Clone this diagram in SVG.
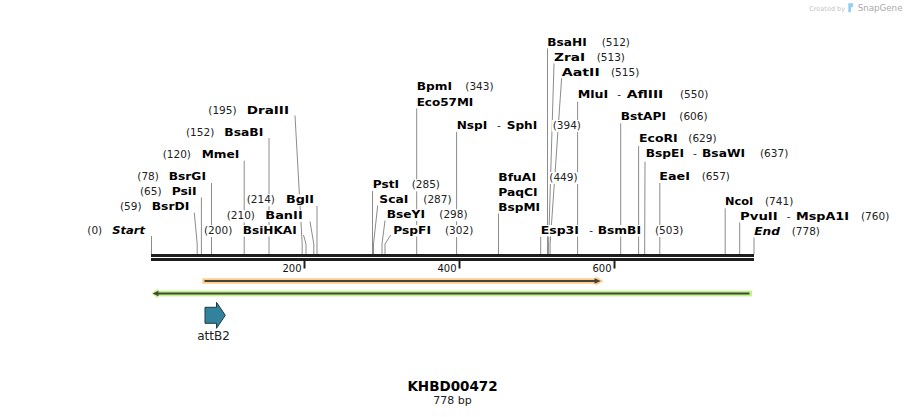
<svg xmlns="http://www.w3.org/2000/svg" width="906" height="417" viewBox="0 0 906 417">
<style>
.n{font-family:"DejaVu Sans",Verdana,sans-serif;font-size:11px;font-weight:bold;fill:#000}
.ni{font-family:"DejaVu Sans",Verdana,sans-serif;font-size:11px;font-weight:bold;font-style:italic;fill:#000}
.p{font-family:"DejaVu Sans",Verdana,sans-serif;font-size:10.5px;fill:#222}
.t{font-family:"DejaVu Sans",Verdana,sans-serif;font-size:10px;fill:#111}
.bg{fill:#fff}
.ld{stroke:#8c8c8c;stroke-width:1;fill:none}
.bb{fill:#1e1e1e}
.tk{stroke:#1e1e1e;stroke-width:2}
</style>
<rect width="906" height="417" fill="#fff"/>

<g id="connectors">
<path class="ld" d="M151.5,236V254"/>
<path class="ld" d="M194.3,212.7L197.2,244V254"/>
<path class="ld" d="M201.4,197.5V254"/>
<path class="ld" d="M211.5,183V254"/>
<path class="ld" d="M244.2,160.7V254"/>
<path class="ld" d="M269,138V254"/>
<path class="ld" d="M295,115.5L302.2,244V254"/>
<path class="ld" d="M303.5,235L306,244V254"/>
<path class="ld" d="M310,221.5L313.8,244V254"/>
<path class="ld" d="M317,206V254"/>
<path class="ld" d="M372.5,190.7V254"/>
<path class="ld" d="M377.7,205.5L373.5,244V254"/>
<path class="ld" d="M385,220.5L382,244V254"/>
<path class="ld" d="M390.7,235L385,244V254"/>
<path class="ld" d="M416.7,108.3V254"/>
<path class="ld" d="M456.6,131.7V254"/>
<path class="ld" d="M498.5,213.3V254"/>
<path class="ld" d="M540.7,236.7V254"/>
<path class="ld" d="M547.5,48.3V254"/>
<path class="ld" d="M554,63.3L548.6,244V254"/>
<path class="ld" d="M561.7,77.3L550.1,244V254"/>
<path class="ld" d="M577.6,101.7V254"/>
<path class="ld" d="M620.7,123.3V254"/>
<path class="ld" d="M638.6,146V254"/>
<path class="ld" d="M645,161.7L644.7,244V254"/>
<path class="ld" d="M659.8,183V254"/>
<path class="ld" d="M725.2,208.3V254"/>
<path class="ld" d="M739.7,222V254"/>
<path class="ld" d="M754,237V254"/>
</g>

<g id="site-Start">
<rect class="bg" x="86.3" y="225" width="18.7" height="12"/><text class="p" x="87.3" y="234">(0)</text>
<rect class="bg" x="111.3" y="225" width="34.7" height="11.5"/><text class="ni" x="112.3" y="234" textLength="32.7" lengthAdjust="spacingAndGlyphs">Start</text>
</g>
<g id="site-BsrDI">
<rect class="bg" x="119" y="201" width="23.7" height="12"/><text class="p" x="120" y="210">(59)</text>
<rect class="bg" x="150.7" y="201" width="39.6" height="11.5"/><text class="n" x="151.7" y="210" textLength="37.6" lengthAdjust="spacingAndGlyphs">BsrDI</text>
</g>
<g id="site-PsiI">
<rect class="bg" x="139" y="186" width="23.7" height="12"/><text class="p" x="140" y="195">(65)</text>
<rect class="bg" x="170.7" y="186" width="27" height="11.5"/><text class="n" x="171.7" y="195" textLength="25" lengthAdjust="spacingAndGlyphs">PsiI</text>
</g>
<g id="site-BsrGI">
<rect class="bg" x="136.3" y="171" width="23.7" height="12"/><text class="p" x="137.3" y="180">(78)</text>
<rect class="bg" x="167.7" y="171" width="39.3" height="11.5"/><text class="n" x="168.7" y="180" textLength="37.3" lengthAdjust="spacingAndGlyphs">BsrGI</text>
</g>
<g id="site-MmeI">
<rect class="bg" x="161.7" y="149.3" width="31.6" height="12"/><text class="p" x="162.7" y="158.3">(120)</text>
<rect class="bg" x="200.7" y="149.3" width="39.6" height="11.5"/><text class="n" x="201.7" y="158.3" textLength="37.6" lengthAdjust="spacingAndGlyphs">MmeI</text>
</g>
<g id="site-BsaBI">
<rect class="bg" x="185" y="126.7" width="31" height="12"/><text class="p" x="186" y="135.7">(152)</text>
<rect class="bg" x="223.3" y="126.7" width="41" height="11.5"/><text class="n" x="224.3" y="135.7" textLength="39" lengthAdjust="spacingAndGlyphs">BsaBI</text>
</g>
<g id="site-DraIII">
<rect class="bg" x="207.3" y="105" width="30.4" height="12"/><text class="p" x="208.3" y="114">(195)</text>
<rect class="bg" x="245.7" y="105" width="44.3" height="11.5"/><text class="n" x="246.7" y="114" textLength="42.3" lengthAdjust="spacingAndGlyphs">DraIII</text>
</g>
<g id="site-BsiHKAI">
<rect class="bg" x="203" y="225" width="31.3" height="12"/><text class="p" x="204" y="234">(200)</text>
<rect class="bg" x="241.7" y="225" width="56" height="11.5"/><text class="n" x="242.7" y="234" textLength="54" lengthAdjust="spacingAndGlyphs">BsiHKAI</text>
</g>
<g id="site-BanII">
<rect class="bg" x="225.7" y="210.3" width="31.3" height="12"/><text class="p" x="226.7" y="219.3">(210)</text>
<rect class="bg" x="264.3" y="210.3" width="39.4" height="11.5"/><text class="n" x="265.3" y="219.3" textLength="37.4" lengthAdjust="spacingAndGlyphs">BanII</text>
</g>
<g id="site-BglI">
<rect class="bg" x="245.7" y="194.3" width="32" height="12"/><text class="p" x="246.7" y="203.3">(214)</text>
<rect class="bg" x="285" y="194.3" width="30" height="11.5"/><text class="n" x="286" y="203.3" textLength="28" lengthAdjust="spacingAndGlyphs">BglI</text>
</g>
<g id="site-PstI">
<rect class="bg" x="371.7" y="179.3" width="28.3" height="11.5"/><text class="n" x="372.7" y="188.3" textLength="26.3" lengthAdjust="spacingAndGlyphs">PstI</text>
<rect class="bg" x="410.7" y="179.3" width="31.3" height="12"/><text class="p" x="411.7" y="188.3">(285)</text>
</g>
<g id="site-ScaI">
<rect class="bg" x="378.3" y="194.3" width="31" height="11.5"/><text class="n" x="379.3" y="203.3" textLength="29" lengthAdjust="spacingAndGlyphs">ScaI</text>
<rect class="bg" x="422.3" y="194.3" width="31.3" height="12"/><text class="p" x="423.3" y="203.3">(287)</text>
</g>
<g id="site-BseYI">
<rect class="bg" x="385.7" y="209.3" width="40.3" height="11.5"/><text class="n" x="386.7" y="218.3" textLength="38.3" lengthAdjust="spacingAndGlyphs">BseYI</text>
<rect class="bg" x="438.3" y="209.3" width="31.3" height="12"/><text class="p" x="439.3" y="218.3">(298)</text>
</g>
<g id="site-PspFI">
<rect class="bg" x="392.3" y="225" width="39.7" height="11.5"/><text class="n" x="393.3" y="234" textLength="37.7" lengthAdjust="spacingAndGlyphs">PspFI</text>
<rect class="bg" x="444" y="225" width="31.3" height="12"/><text class="p" x="445" y="234">(302)</text>
</g>
<g id="site-BpmI">
<rect class="bg" x="415.7" y="81" width="37.3" height="11.5"/><text class="n" x="416.7" y="90" textLength="35.3" lengthAdjust="spacingAndGlyphs">BpmI</text>
<rect class="bg" x="464.3" y="81" width="31.3" height="12"/><text class="p" x="465.3" y="90">(343)</text>
<rect class="bg" x="415.7" y="96.7" width="58.6" height="11.5"/><text class="n" x="416.7" y="105.7" textLength="56.6" lengthAdjust="spacingAndGlyphs">Eco57MI</text>
</g>
<g id="site-NspI">
<rect class="bg" x="455.7" y="120" width="32.6" height="11.5"/><text class="n" x="456.7" y="129" textLength="30.6" lengthAdjust="spacingAndGlyphs">NspI</text>
<text class="p" x="497" y="129">-</text>
<rect class="bg" x="505.7" y="120" width="32.6" height="11.5"/><text class="n" x="506.7" y="129" textLength="30.6" lengthAdjust="spacingAndGlyphs">SphI</text>
<rect class="bg" x="551.7" y="120" width="31.3" height="12"/><text class="p" x="552.7" y="129">(394)</text>
</g>
<g id="site-BfuAI">
<rect class="bg" x="497.3" y="172" width="39.7" height="11.5"/><text class="n" x="498.3" y="181" textLength="37.7" lengthAdjust="spacingAndGlyphs">BfuAI</text>
<rect class="bg" x="548.3" y="172" width="30.3" height="12"/><text class="p" x="549.3" y="181">(449)</text>
<rect class="bg" x="497.3" y="187" width="41.4" height="11.5"/><text class="n" x="498.3" y="196" textLength="39.4" lengthAdjust="spacingAndGlyphs">PaqCI</text>
<rect class="bg" x="497.3" y="201.7" width="43.7" height="11.5"/><text class="n" x="498.3" y="210.7" textLength="41.7" lengthAdjust="spacingAndGlyphs">BspMI</text>
</g>
<g id="site-Esp3I">
<rect class="bg" x="539.7" y="225" width="40.3" height="11.5"/><text class="n" x="540.7" y="234" textLength="38.3" lengthAdjust="spacingAndGlyphs">Esp3I</text>
<text class="p" x="589.3" y="234">-</text>
<rect class="bg" x="596.7" y="225" width="45.3" height="11.5"/><text class="n" x="597.7" y="234" textLength="43.3" lengthAdjust="spacingAndGlyphs">BsmBI</text>
<rect class="bg" x="654" y="225" width="31.3" height="12"/><text class="p" x="655" y="234">(503)</text>
</g>
<g id="site-BsaHI">
<rect class="bg" x="546.3" y="36.7" width="41.4" height="11.5"/><text class="n" x="547.3" y="45.7" textLength="39.4" lengthAdjust="spacingAndGlyphs">BsaHI</text>
<text class="p" x="601.7" y="45.7">(512)</text>
</g>
<g id="site-ZraI">
<rect class="bg" x="553" y="51.7" width="33" height="11.5"/><text class="n" x="554" y="60.7" textLength="31" lengthAdjust="spacingAndGlyphs">ZraI</text>
<text class="p" x="596.7" y="60.7">(513)</text>
</g>
<g id="site-AatII">
<rect class="bg" x="560.7" y="66.7" width="40" height="11.5"/><text class="n" x="561.7" y="75.7" textLength="38" lengthAdjust="spacingAndGlyphs">AatII</text>
<text class="p" x="611" y="75.7">(515)</text>
</g>
<g id="site-MluI">
<rect class="bg" x="576.7" y="89.3" width="32.6" height="11.5"/><text class="n" x="577.7" y="98.3" textLength="30.6" lengthAdjust="spacingAndGlyphs">MluI</text>
<text class="p" x="617.3" y="98.3">-</text>
<text class="n" x="626.7" y="98.3" textLength="36.6" lengthAdjust="spacingAndGlyphs">AflIII</text>
<text class="p" x="680" y="98.3">(550)</text>
</g>
<g id="site-BstAPI">
<rect class="bg" x="619.7" y="111" width="47.3" height="11.5"/><text class="n" x="620.7" y="120" textLength="45.3" lengthAdjust="spacingAndGlyphs">BstAPI</text>
<text class="p" x="679.3" y="120">(606)</text>
</g>
<g id="site-EcoRI">
<rect class="bg" x="638" y="132.7" width="40.7" height="11.5"/><text class="n" x="639" y="141.7" textLength="38.7" lengthAdjust="spacingAndGlyphs">EcoRI</text>
<text class="p" x="688.3" y="141.7">(629)</text>
</g>
<g id="site-BspEI">
<rect class="bg" x="644.7" y="148.3" width="40.3" height="11.5"/><text class="n" x="645.7" y="157.3" textLength="38.3" lengthAdjust="spacingAndGlyphs">BspEI</text>
<text class="p" x="693" y="157.3">-</text>
<text class="n" x="702" y="157.3" textLength="43" lengthAdjust="spacingAndGlyphs">BsaWI</text>
<text class="p" x="760" y="157.3">(637)</text>
</g>
<g id="site-EaeI">
<rect class="bg" x="658.3" y="171" width="32.7" height="11.5"/><text class="n" x="659.3" y="180" textLength="30.7" lengthAdjust="spacingAndGlyphs">EaeI</text>
<text class="p" x="701.7" y="180">(657)</text>
</g>
<g id="site-NcoI">
<rect class="bg" x="724" y="196" width="30.3" height="11.5"/><text class="n" x="725" y="205" textLength="28.3" lengthAdjust="spacingAndGlyphs">NcoI</text>
<text class="p" x="765" y="205">(741)</text>
</g>
<g id="site-PvuII">
<rect class="bg" x="739" y="211" width="39.7" height="11.5"/><text class="n" x="740" y="220" textLength="37.7" lengthAdjust="spacingAndGlyphs">PvuII</text>
<text class="p" x="786.7" y="220">-</text>
<text class="n" x="796" y="220" textLength="53" lengthAdjust="spacingAndGlyphs">MspA1I</text>
<text class="p" x="861" y="220">(760)</text>
</g>
<g id="site-End">
<rect class="bg" x="753.3" y="226" width="27.7" height="11.5"/><text class="ni" x="754.3" y="235" textLength="25.7" lengthAdjust="spacingAndGlyphs">End</text>
<text class="p" x="791.7" y="235">(778)</text>
</g>

<g id="backbone">
<rect class="bb" x="151" y="254" width="603" height="3"/>
<rect class="bb" x="151" y="258" width="603" height="3"/>
<line class="tk" x1="304.5" y1="261" x2="304.5" y2="268.5"/>
<line class="tk" x1="459.5" y1="261" x2="459.5" y2="268.5"/>
<line class="tk" x1="614.5" y1="261" x2="614.5" y2="268.5"/>
<text class="t" x="301.5" y="271.5" text-anchor="end">200</text>
<text class="t" x="456.5" y="271.5" text-anchor="end">400</text>
<text class="t" x="611.5" y="271.5" text-anchor="end">600</text>
</g>

<g id="feature-orange">
<rect x="202.3" y="278.3" width="395" height="5.4" fill="#fbcd85"/>
<polygon points="595.5,276.5 603.5,281 595.5,285.5" fill="#fbcd85"/>
<line x1="204.5" y1="281" x2="596" y2="281" stroke="#4a4238" stroke-width="2"/>
<polygon points="594.5,278.3 600.8,281 594.5,283.7" fill="#4a4238"/>
</g>

<g id="feature-green">
<rect x="156" y="290.6" width="596" height="5.8" fill="#c6f28e"/>
<polygon points="158,288.5 151.3,293.5 158,298.5" fill="#c6f28e"/>
<line x1="157" y1="293.5" x2="749.5" y2="293.5" stroke="#3f4a3a" stroke-width="2"/>
<polygon points="158.5,290.8 152.6,293.5 158.5,296.2" fill="#3f4a3a"/>
</g>

<g id="feature-attB2">
<path d="M205,307.3H216.5V302.3L225.3,315.3L216.5,328.3V323.3H205Z" fill="#31829a" stroke="#1d3a44" stroke-width="1"/>
<text x="213.5" y="339.5" text-anchor="middle" font-family="DejaVu Sans, Verdana, sans-serif" font-size="12" fill="#222">attB2</text>
</g>

<g id="title">
<text x="452.5" y="390.7" text-anchor="middle" font-family="DejaVu Sans, Verdana, sans-serif" font-size="13.5" font-weight="bold" fill="#000">KHBD00472</text>
<text x="452.5" y="403.5" text-anchor="middle" font-family="DejaVu Sans, Verdana, sans-serif" font-size="11" fill="#222">778 bp</text>
</g>

<g id="credit">
<text x="809.3" y="10.5" font-family="DejaVu Sans, sans-serif" font-size="6.5" fill="#c4c4c4">Created by</text>
<path d="M848.3,3.3H853V6.5L851,7.6V12.3H848.3Z" fill="#92cff2"/>
<text x="857.7" y="10.8" font-family="DejaVu Sans, sans-serif" font-size="8.7" fill="#aaaaaa">SnapGene</text>
</g>
</svg>
